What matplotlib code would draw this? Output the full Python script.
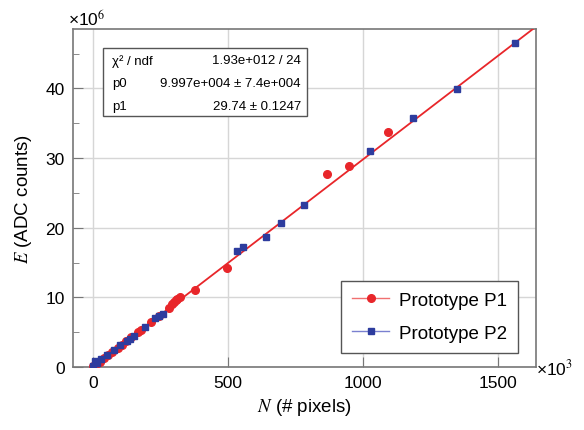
import matplotlib.pyplot as plt
import numpy as np

# values in units of 10^3 pixels / 10^6 ADC counts
n_p1 = [0, 10, 25, 40, 55, 70, 90, 105, 120, 140, 165, 175, 215, 245, 280, 290,
        300, 305, 310, 320, 375, 495, 865, 946, 1093]
e_p1 = [0.1, 0.4, 0.8, 1.3, 1.8, 2.2, 2.8, 3.2, 3.7, 4.3, 5.0, 5.3, 6.5, 7.4, 8.5, 9.0,
        9.3, 9.6, 9.8, 10.0, 11.0, 14.2, 27.7, 28.9, 33.7]
n_p2 = [0, 8, 15, 30, 50, 75, 100, 125, 135, 150, 190, 230, 245, 260, 534, 554,
        638, 694, 780, 1026, 1184, 1347, 1562]
e_p2 = [0.1, 0.9, 0.6, 1.1, 1.7, 2.4, 3.1, 3.7, 4.1, 4.5, 5.7, 7.0, 7.4, 7.6, 16.7, 17.3,
        18.7, 20.7, 23.2, 31.0, 35.8, 39.9, 46.5]

p0 = 9.997e4
p1 = 29.74

stat_names = ['χ² / ndf', 'p0', 'p1']
stat_values = ['1.93e+012 / 24', '9.997e+004 ± 7.4e+004', '29.74 ± 0.1247']

plt.rcParams['font.family'] = ['Liberation Sans', 'DejaVu Sans']
plt.rcParams['mathtext.fontset'] = 'stix'

red = '#e8262a'
blue = '#2d3c9e'

fig = plt.figure(figsize=(5.84, 4.31), dpi=100)
ax = fig.add_axes([0.125, 0.146, 0.793, 0.784])

# fit line
xf = np.linspace(0, 1700, 50)
yf = (p0 + p1 * xf * 1e3) / 1e6
ax.plot(xf, yf, color=red, lw=1.3, zorder=3)

ax.plot(n_p1, e_p1, 'o', color=red, ms=5.5, zorder=4)
ax.plot(n_p2, e_p2, 's', color=blue, ms=5, zorder=4)

ax.set_xlim(-75, 1640)
ax.set_ylim(0, 48.5)
ax.set_xticks([0, 500, 1000, 1500])
ax.set_yticks([0, 10, 20, 30, 40])
ax.set_yticks([5, 15, 25, 35, 45], minor=True)
ax.tick_params(axis='both', which='major', direction='in', length=7, labelsize=12.5,
               color='#777777', pad=6)
ax.tick_params(axis='y', which='minor', direction='in', length=4, color='#777777')
ax.grid(True, color='#d6d6d6', lw=1)
ax.set_axisbelow(True)
for s in ax.spines.values():
    s.set_color('#777777')
    s.set_linewidth(1.2)

ax.set_xlabel('$N$ (# pixels)', fontsize=13.5, labelpad=4)
ax.set_ylabel('$E$ (ADC counts)', fontsize=13.5, labelpad=8)

ax.text(-0.01, 1.005, '×10$^{6}$', transform=ax.transAxes, fontsize=12.5, ha='left', va='bottom')
ax.text(1.0, 0.0, '×10$^{3}$', transform=ax.transAxes, fontsize=12.5, ha='left', va='center')

# stats box
rect = plt.Rectangle((0.064, 0.742), 0.441, 0.201, transform=ax.transAxes,
                     facecolor='white', edgecolor='#555555', lw=1, zorder=5)
ax.add_patch(rect)
rows_y = [0.908, 0.840, 0.772]
for name, val, yy in zip(stat_names, stat_values, rows_y):
    ax.text(0.084, yy, name, transform=ax.transAxes, fontsize=9.5, va='center', ha='left', zorder=6)
    ax.text(0.492, yy, val, transform=ax.transAxes, fontsize=9.5, va='center', ha='right', zorder=6)

# legend
h1, = ax.plot([], [], '-o', color='#f07070', ms=5.5, lw=1, mfc=red, mec=red)
h2, = ax.plot([], [], '-s', color='#7a80d0', ms=5, lw=1, mfc=blue, mec=blue)
leg = ax.legend([h1, h2], ['Prototype P1', 'Prototype P2'], loc='lower right',
                bbox_to_anchor=(0.961, 0.041), borderaxespad=0, fontsize=13.5,
                fancybox=False, edgecolor='#555555', framealpha=1, handlelength=2.0,
                borderpad=0.6, labelspacing=0.85, handletextpad=0.5)
leg.get_frame().set_linewidth(1)

fig.savefig('out.png', dpi=100)
